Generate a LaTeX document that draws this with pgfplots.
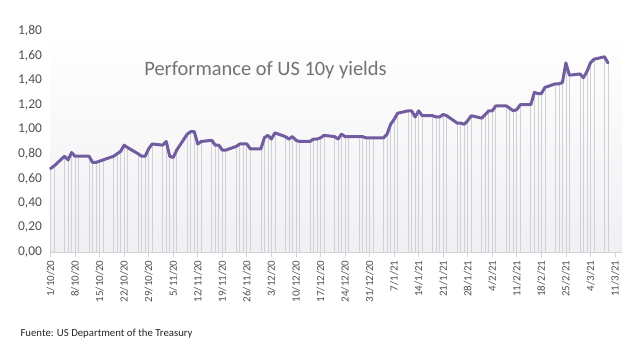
\documentclass[border=0pt]{standalone}
\usepackage{pgfplots}
\usepackage{pgfplotstable}
\pgfplotsset{compat=1.18}
\usepackage{fontspec}
\setmainfont{Carlito}
\definecolor{linecol}{RGB}{112,92,158}
\definecolor{dropcol}{RGB}{208,208,215}
\definecolor{ticktext}{RGB}{80,80,80}
\definecolor{titletext}{RGB}{115,115,115}
\definecolor{axisgray}{RGB}{210,210,215}
\definecolor{bgbottom}{RGB}{240,240,243}

% day offset from 1 Oct 2020, 10y yield
\pgfplotstableread{
d y
0 0.68
1 0.70
4 0.78
5 0.75
6 0.81
7 0.78
8 0.78
11 0.78
12 0.73
13 0.73
14 0.74
15 0.75
18 0.78
19 0.80
20 0.82
21 0.87
22 0.85
25 0.80
26 0.78
27 0.78
28 0.84
29 0.88
32 0.87
33 0.90
34 0.78
35 0.77
36 0.83
39 0.96
40 0.98
41 0.98
42 0.88
43 0.90
46 0.91
47 0.87
48 0.87
49 0.83
50 0.83
53 0.86
54 0.88
55 0.88
56 0.88
57 0.84
60 0.84
61 0.93
62 0.95
63 0.92
64 0.97
67 0.94
68 0.92
69 0.94
70 0.91
71 0.90
74 0.90
75 0.92
76 0.92
77 0.93
78 0.95
81 0.94
82 0.92
83 0.96
84 0.94
85 0.94
88 0.94
89 0.94
90 0.93
91 0.93
92 0.93
95 0.93
96 0.96
97 1.04
98 1.08
99 1.13
102 1.15
103 1.15
104 1.10
105 1.15
106 1.11
109 1.11
110 1.10
111 1.10
112 1.12
113 1.11
116 1.05
117 1.05
118 1.04
119 1.07
120 1.11
123 1.09
124 1.12
125 1.15
126 1.15
127 1.19
130 1.19
131 1.17
132 1.15
133 1.16
134 1.20
137 1.20
138 1.30
139 1.29
140 1.29
141 1.34
144 1.37
145 1.37
146 1.38
147 1.54
148 1.44
151 1.45
152 1.42
153 1.47
154 1.54
155 1.57
158 1.59
159 1.54
}\yields

\begin{document}
\begin{tikzpicture}
\path[use as bounding box] (0,0) rectangle (641bp,354bp);
\begin{axis}[
  at={(50.5bp,102bp)}, anchor=south west,
  width=571.5bp, height=221bp, scale only axis,
  xmin=0, xmax=163, ymin=0, ymax=1.8,
  axis x line*=bottom, axis y line*=left,
  y axis line style={draw=none},
  x axis line style={draw=axisgray, line width=0.8bp},
  axis background/.style={shade, top color=white, bottom color=bgbottom, draw=none},
  xtick={0,7,...,161},
  xticklabels={1/10/20,8/10/20,15/10/20,22/10/20,29/10/20,5/11/20,12/11/20,19/11/20,26/11/20,3/12/20,10/12/20,17/12/20,24/12/20,31/12/20,7/1/21,14/1/21,21/1/21,28/1/21,4/2/21,11/2/21,18/2/21,25/2/21,4/3/21,11/3/21},
  ytick={0,0.2,0.4,0.6,0.8,1.0,1.2,1.4,1.6,1.8},
  y tick label style={/pgf/number format/fixed, /pgf/number format/fixed zerofill, /pgf/number format/precision=2, /pgf/number format/use comma, font=\fontsize{13.5}{15}\selectfont, text=ticktext},
  /pgf/number format/assume math mode=true,
  tick align=outside,
  major tick length=5bp,
  x tick style={draw=axisgray, line width=0.8bp},
  y tick style={draw=none},
  x tick label style={rotate=90, anchor=east, font=\fontsize{11}{13}\selectfont, text=ticktext},
  clip=false,
]
\addplot[ycomb, draw=dropcol, line width=0.7bp, mark=none] table[x=d, y=y] {\yields};
\addplot[draw=linecol, line width=3bp, line join=round, line cap=round, mark=none] table[x=d, y=y] {\yields};
\end{axis}
\node[anchor=base, font=\fontsize{20.5}{23}\selectfont, text=titletext] at (265.5bp,278bp) {Performance of US 10y yields};
\node[anchor=base west, font=\fontsize{10.8}{12}\selectfont, text=black!85] at (17bp,18bp) {Fuente: US Department of the Treasury};
\end{tikzpicture}
\end{document}
